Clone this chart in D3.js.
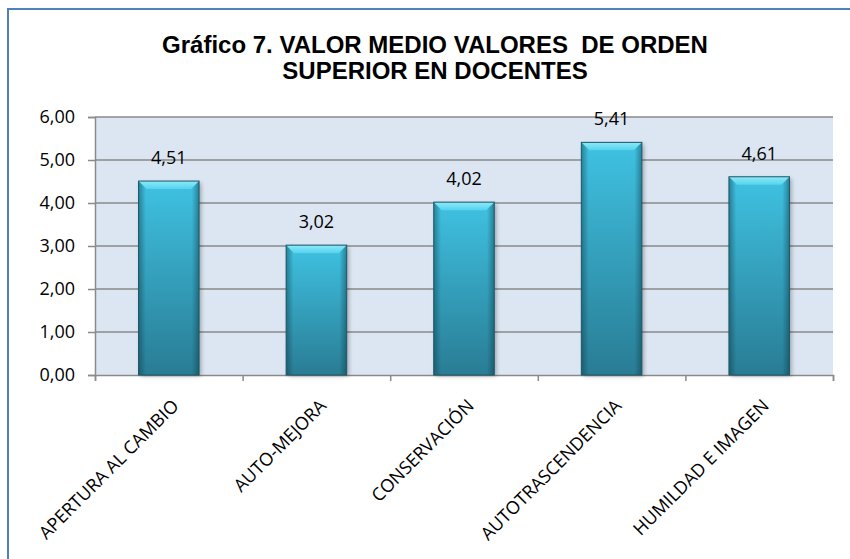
<!DOCTYPE html>
<html lang="es">
<head>
<meta charset="UTF-8">
<title>Gráfico 7</title>
<script src="https://d3js.org/d3.v7.min.js"></script>
<style>
  body { margin: 0; background: #fff; }
  svg { display: block; }
</style>
</head>
<body>
<div id="chart"></div>
<script>
// Data
const categories = ["APERTURA AL CAMBIO", "AUTO-MEJORA", "CONSERVACIÓN", "AUTOTRASCENDENCIA", "HUMILDAD E IMAGEN"];
const values = [4.51, 3.02, 4.02, 5.41, 4.61];
const yTicks = [0, 1, 2, 3, 4, 5, 6];
const titleLines = ["Gráfico 7. VALOR MEDIO VALORES  DE ORDEN", "SUPERIOR EN DOCENTES"];

const W = 850, H = 559;
const plot = {left: 95, right: 833, top: 117, bottom: 375};
const fmt = v => v.toFixed(2).replace(".", ",");

const svg = d3.select("#chart").append("svg")
    .attr("width", W)
    .attr("height", H);

const defs = svg.append("defs");

// bar body gradient (vertical)
const gBody = defs.append("linearGradient").attr("id", "body")
    .attr("x1", 0).attr("y1", 0).attr("x2", 0).attr("y2", 1);
gBody.append("stop").attr("offset", "0%").attr("stop-color", "#3fc2e2");
gBody.append("stop").attr("offset", "100%").attr("stop-color", "#297c94");

// side shading (horizontal)
const gSide = defs.append("linearGradient").attr("id", "side")
    .attr("x1", 0).attr("y1", 0).attr("x2", 1).attr("y2", 0);
gSide.append("stop").attr("offset", "0%").attr("stop-color", "#0b3440").attr("stop-opacity", 0.45);
gSide.append("stop").attr("offset", "12%").attr("stop-color", "#0b3440").attr("stop-opacity", 0.0);
gSide.append("stop").attr("offset", "88%").attr("stop-color", "#0b3440").attr("stop-opacity", 0.0);
gSide.append("stop").attr("offset", "100%").attr("stop-color", "#0b3440").attr("stop-opacity", 0.45);

// top bevel gradient
const gTop = defs.append("linearGradient").attr("id", "bevel")
    .attr("x1", 0).attr("y1", 0).attr("x2", 0).attr("y2", 1);
gTop.append("stop").attr("offset", "0%").attr("stop-color", "#8de9f8");
gTop.append("stop").attr("offset", "100%").attr("stop-color", "#55d3ee");

const shadow = defs.append("filter").attr("id", "shadow")
    .attr("x", "-20%").attr("y", "-20%").attr("width", "150%").attr("height", "150%");
shadow.append("feGaussianBlur").attr("stdDeviation", 2);

// outer chart border
svg.append("rect")
    .attr("x", 8).attr("y", 9)
    .attr("width", W + 10).attr("height", H + 10)
    .attr("fill", "#fff")
    .attr("stroke", "#4f81bd")
    .attr("stroke-width", 2);

// title
svg.append("g").selectAll("text")
    .data(titleLines)
    .join("text")
    .attr("x", 435)
    .attr("y", (d, i) => 53 + i * 26)
    .attr("text-anchor", "middle")
    .style("white-space", "pre")
    .style("font-family", "'Liberation Sans', Arial, sans-serif")
    .style("font-weight", "bold")
    .style("font-size", "24px")
    .attr("fill", "#000")
    .text(d => d);

// scales
const x = d3.scaleBand()
    .domain(categories)
    .range([plot.left, plot.right])
    .padding(0);

const y = d3.scaleLinear()
    .domain([0, 6])
    .range([plot.bottom, plot.top]);

// plot background
svg.append("rect")
    .attr("x", plot.left).attr("y", plot.top)
    .attr("width", plot.right - plot.left)
    .attr("height", plot.bottom - plot.top)
    .attr("fill", "#dce6f2");

// gridlines
svg.append("g")
    .selectAll("line")
    .data(yTicks.filter(d => d > 0))
    .join("line")
    .attr("x1", plot.left).attr("x2", plot.right)
    .attr("y1", d => y(d)).attr("y2", d => y(d))
    .attr("stroke", "#8a8a8a")
    .attr("stroke-width", 1.5);

// y axis
const yAxis = svg.append("g")
    .attr("transform", `translate(${plot.left},0)`)
    .call(d3.axisLeft(y).tickValues(yTicks).tickSize(7).tickPadding(13).tickFormat(fmt));
yAxis.select(".domain").attr("stroke", "#8a8a8a").attr("stroke-width", 1.5);
yAxis.selectAll(".tick line").attr("stroke", "#8a8a8a").attr("stroke-width", 1.5);
yAxis.selectAll(".tick text")
    .style("font-family", "'Open Sans', sans-serif")
    .style("font-size", "18px")
    .attr("fill", "#000");

// x axis (ticks at category boundaries)
const xBound = d3.scaleLinear().domain([0, categories.length]).range([plot.left, plot.right]);
const xAxis = svg.append("g")
    .attr("transform", `translate(0,${plot.bottom})`)
    .call(d3.axisBottom(xBound).ticks(categories.length).tickSize(6).tickFormat(""));
xAxis.select(".domain").attr("stroke", "#8a8a8a").attr("stroke-width", 1.5);
xAxis.selectAll(".tick line").attr("stroke", "#8a8a8a").attr("stroke-width", 1.5);

// category labels
svg.append("g").selectAll("text")
    .data(categories)
    .join("text")
    .attr("transform", d => `translate(${x(d) + x.bandwidth() / 2 + 11},${plot.bottom + 32}) rotate(-45)`)
    .attr("text-anchor", "end")
    .style("font-family", "'Open Sans', sans-serif")
    .style("font-size", "18px")
    .attr("fill", "#000")
    .text(d => d);

// bars
const barW = x.bandwidth() * 0.41;
const bev = 8;
const bars = svg.append("g").selectAll("g")
    .data(values)
    .join("g")
    .attr("transform", (d, i) => `translate(${x(categories[i]) + (x.bandwidth() - barW) / 2},0)`);

bars.append("rect")
    .attr("x", 2).attr("y", d => y(d) + 2)
    .attr("width", barW).attr("height", d => plot.bottom - y(d) - 1)
    .attr("fill", "#000").attr("opacity", 0.3)
    .attr("filter", "url(#shadow)");

bars.append("rect")
    .attr("x", 0).attr("y", d => y(d))
    .attr("width", barW).attr("height", d => plot.bottom - y(d))
    .attr("fill", "url(#body)");

bars.append("rect")
    .attr("x", 0).attr("y", d => y(d))
    .attr("width", barW).attr("height", d => plot.bottom - y(d))
    .attr("fill", "url(#side)");

bars.append("polygon")
    .attr("points", d => {
        const t = y(d);
        return [[0, t], [barW, t], [barW - bev, t + bev], [bev, t + bev]].join(" ");
    })
    .attr("fill", "url(#bevel)");

bars.append("rect")
    .attr("x", 0).attr("y", d => y(d))
    .attr("width", barW).attr("height", d => plot.bottom - y(d))
    .attr("fill", "none")
    .attr("stroke", "#1d5868")
    .attr("stroke-width", 1);

// value labels
bars.append("text")
    .attr("x", barW / 2)
    .attr("y", d => y(d) - 17)
    .attr("text-anchor", "middle")
    .style("font-family", "'Open Sans', sans-serif")
    .style("font-size", "18px")
    .attr("fill", "#000")
    .text(d => fmt(d));
</script>
</body>
</html>
